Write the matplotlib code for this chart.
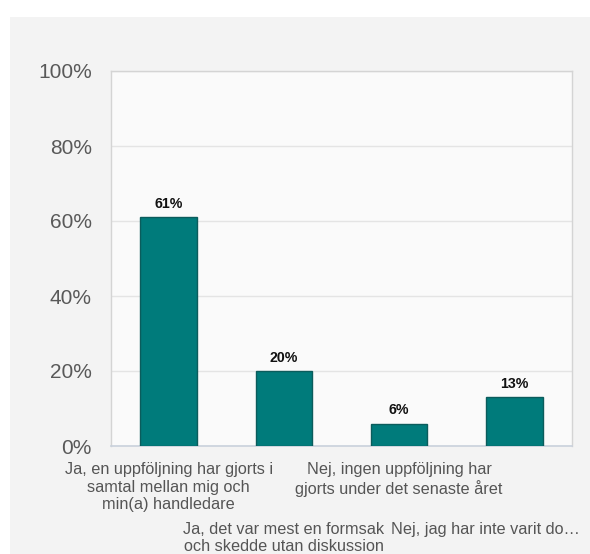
import matplotlib
matplotlib.use("Agg")
import matplotlib.pyplot as plt
from matplotlib.patches import Rectangle

categories = [
    "Ja, en uppföljning har gjorts i\nsamtal mellan mig och\nmin(a) handledare",
    "Ja, det var mest en formsak\noch skedde utan diskussion",
    "Nej, ingen uppföljning har\ngjorts under det senaste året",
    "Nej, jag har inte varit do…",
]
values = [61, 20, 6, 13]
yticks = [0, 20, 40, 60, 80, 100]
ytick_labels = ["0%", "20%", "40%", "60%", "80%", "100%"]

plt.rcParams['font.family'] = ['Liberation Sans', 'DejaVu Sans']

W, H = 590, 554
fig = plt.figure(figsize=(W / 100, H / 100), dpi=100)
fig.patch.set_facecolor('white')
bg = Rectangle((10 / W, 0), (W - 10) / W, (H - 17) / H,
               transform=fig.transFigure, facecolor='#f3f3f3',
               edgecolor='none', zorder=-10)
fig.add_artist(bg)

ax = fig.add_axes([111 / W, (H - 446) / H, (572 - 111) / W, (446 - 71) / H])
ax.set_zorder(1)
ax.set_facecolor('#fafafa')

x = list(range(len(values)))
bars = ax.bar(x, values, width=0.49, color='#007b7b', edgecolor='#0b5c5c',
              linewidth=1.0, zorder=3)
for xi, v in zip(x, values):
    ax.annotate(f"{v}%", (xi, v), xytext=(0, 6.5), textcoords='offset points',
                ha='center', va='baseline', fontsize=10.2,
                fontweight='bold', color='#111111', zorder=4)

ax.set_xlim(-0.5, 3.5)
ax.set_ylim(0, 100)
ax.set_yticks(yticks)
ax.set_yticklabels(ytick_labels, fontsize=15, color='#595959')
ax.tick_params(axis='y', length=0, pad=13.7)
ax.set_xticks([])
ax.grid(axis='y', color='#e4e4e4', linewidth=1.0, zorder=0)
ax.set_axisbelow(True)
for side in ['left', 'right', 'top']:
    ax.spines[side].set_color('#d4d4d4')
    ax.spines[side].set_linewidth(1.0)
ax.spines['bottom'].set_color('#c9d1dc')
ax.spines['bottom'].set_linewidth(1.2)

lab_fs = 11.7
lab_col = '#555555'
trans = ax.get_xaxis_transform()
# row 1: categories 0 and 2
for i in (0, 2):
    ax.text(x[i], -0.043, categories[i], transform=trans, ha='center', va='top',
            fontsize=lab_fs, color=lab_col, linespacing=1.2)
# row 2: categories 1 and 3
ax.text(x[1], -0.203, categories[1], transform=trans, ha='center', va='top',
        fontsize=lab_fs, color=lab_col, linespacing=1.18)
ax.text(x[3] - 0.25, -0.203, categories[3], transform=trans, ha='center', va='top',
        fontsize=lab_fs, color=lab_col, linespacing=1.18)

fig.savefig('out.png', dpi=100, facecolor=fig.get_facecolor())
